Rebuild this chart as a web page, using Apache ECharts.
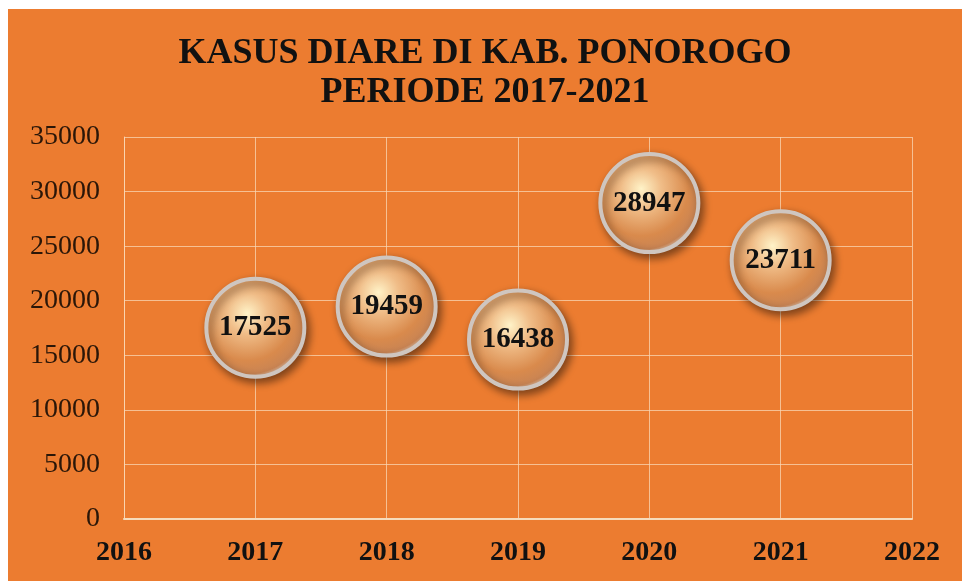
<!DOCTYPE html>
<html>
<head>
<meta charset="utf-8">
<script src="https://cdn.jsdelivr.net/npm/echarts@6/dist/echarts.min.js"></script>
<style>
html, body { margin: 0; padding: 0; background: #ffffff; }
#main { position: absolute; left: 8px; top: 9px; width: 954px; height: 572px; }
</style>
</head>
<body>
<div id="main"></div>
<script>
// data
var years = [2017, 2018, 2019, 2020, 2021];
var cases = [17525, 19459, 16438, 28947, 23711];
var titleLines = ['KASUS DIARE DI KAB. PONOROGO', 'PERIODE 2017-2021'];

var points = years.map(function (y, i) { return [y, cases[i]]; });

var myChart = echarts.init(document.getElementById('main'));

var option = {
    backgroundColor: '#EC7C30',
    animation: false,
    aria: { enabled: true, decal: { show: true } },
    title: {
        text: titleLines.join('\n'),
        left: 'center',
        top: 20,
        textStyle: {
            fontFamily: 'Liberation Serif',
            fontWeight: 'bold',
            fontSize: 36,
            lineHeight: 39,
            color: '#111111'
        }
    },
    grid: {
        left: 116,
        right: 50,
        top: 128,
        bottom: 62
    },
    xAxis: {
        type: 'value',
        min: 2016,
        max: 2022,
        interval: 1,
        axisLine: { show: true, lineStyle: { color: '#f6dcbc', width: 2 } },
        axisTick: { show: false },
        splitLine: { show: true, lineStyle: { color: 'rgba(250,215,180,0.75)', width: 1 } },
        axisLabel: {
            margin: 20,
            formatter: function (v) { return String(v); },
            fontFamily: 'Liberation Serif',
            fontWeight: 'bold',
            fontSize: 28,
            color: '#111111'
        }
    },
    yAxis: {
        type: 'value',
        min: 0,
        max: 35000,
        interval: 5000,
        axisLine: { show: true, lineStyle: { color: 'rgba(250,215,180,0.85)', width: 1 } },
        axisTick: { show: false },
        splitLine: { show: true, lineStyle: { color: 'rgba(250,215,180,0.75)', width: 1 } },
        axisLabel: {
            margin: 24,
            formatter: function (v) { return String(v); },
            fontFamily: 'Liberation Serif',
            fontSize: 28,
            color: '#2a1608'
        }
    },
    series: [
        {
            name: 'Kasus Diare',
            type: 'scatter',
            symbol: 'circle',
            symbolSize: 98,
            data: points,
            itemStyle: {
                color: {
                    type: 'radial',
                    x: 0.42,
                    y: 0.36,
                    r: 0.66,
                    colorStops: [
                        { offset: 0, color: '#fff3c8' },
                        { offset: 0.3, color: '#f0bd88' },
                        { offset: 0.7, color: '#d98a4c' },
                        { offset: 0.9, color: '#c98453' },
                        { offset: 1, color: '#e2d6cc' }
                    ]
                },
                borderColor: '#cfc6c0',
                borderWidth: 4,
                shadowBlur: 8,
                shadowColor: 'rgba(0,0,0,0.45)',
                shadowOffsetX: 3,
                shadowOffsetY: 4,
                opacity: 1,
                decal: {
                    symbol: 'rect',
                    symbolSize: 1,
                    dashArrayX: [1, 0],
                    dashArrayY: [1, 3],
                    rotation: -Math.PI / 4,
                    color: 'rgba(150,70,20,0.22)'
                }
            },
            label: {
                show: true,
                position: 'inside',
                formatter: function (p) { return String(p.value[1]); },
                fontFamily: 'Liberation Serif',
                fontWeight: 'bold',
                fontSize: 29,
                color: '#111111'
            }
        }
    ]
};

myChart.setOption(option);
</script>
</body>
</html>
